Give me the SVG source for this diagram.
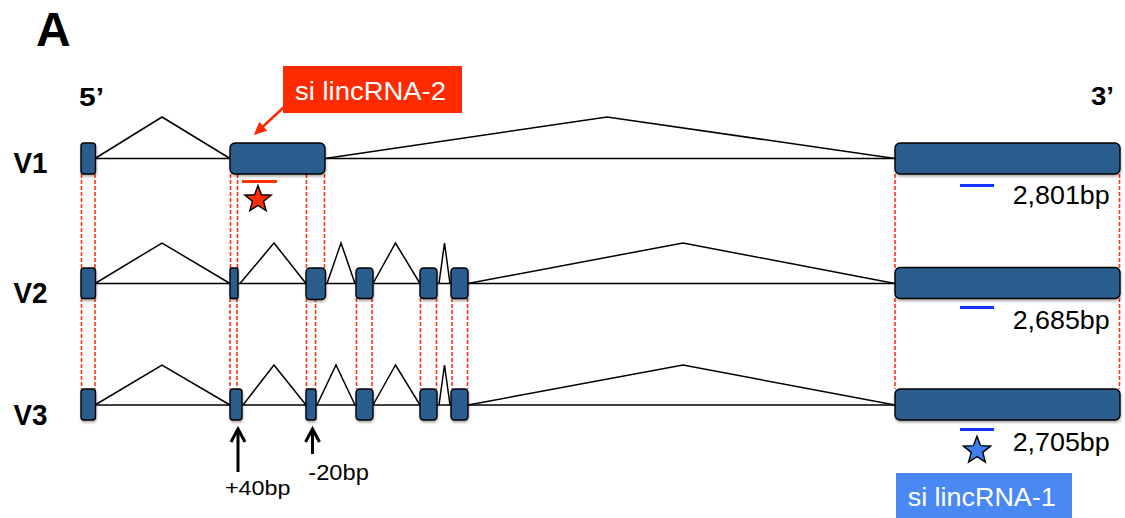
<svg xmlns="http://www.w3.org/2000/svg" width="1125" height="518" viewBox="0 0 1125 518">
<style>
.ex{fill:#2a5c8e;stroke:#000;stroke-width:1.4;filter:url(#sh)}
.in{fill:none;stroke:#000;stroke-width:1.5;stroke-linejoin:miter}
.gd{stroke:#ff3312;stroke-width:1.6;stroke-dasharray:4 2}
.lb{font-family:"Liberation Sans",Arial,sans-serif;fill:#000}
.b{font-weight:bold}
.bl{stroke:#1533ff;stroke-width:3}
.ar{stroke:#000;stroke-width:3;fill:none}
.wt{font-family:"Liberation Sans",Arial,sans-serif;fill:#fff}
</style>
<defs>
<filter id="sh" x="-20%" y="-20%" width="140%" height="160%"><feDropShadow dx="0.5" dy="2" stdDeviation="1.2" flood-opacity="0.3"/></filter>
<polygon id="star" points="0,-13 3.23,-4.45 12.36,-4.02 5.23,1.7 7.64,10.52 0,5.5 -7.64,10.52 -5.23,1.7 -12.36,-4.02 -3.23,-4.45" stroke="#000" stroke-width="1.3"/>
<marker id="ra" markerWidth="13" markerHeight="12" refX="10" refY="6" orient="auto" markerUnits="userSpaceOnUse"><path d="M0,0 L13,6 L0,12 Z" fill="#ff2a00"/></marker>
</defs>
<rect width="1125" height="518" fill="#fff"/>

<g id="labels">
<text class="lb b" x="36" y="46" font-size="48">A</text>
<text class="lb b" x="79" y="106" font-size="26" textLength="25" lengthAdjust="spacingAndGlyphs">5’</text>
<text class="lb b" x="1091" y="105" font-size="25" textLength="23" lengthAdjust="spacingAndGlyphs">3’</text>
<text class="lb b" x="13.5" y="173" font-size="30" textLength="34" lengthAdjust="spacingAndGlyphs">V1</text>
<text class="lb b" x="13.5" y="303" font-size="30" textLength="34" lengthAdjust="spacingAndGlyphs">V2</text>
<text class="lb b" x="13.5" y="425" font-size="30" textLength="34" lengthAdjust="spacingAndGlyphs">V3</text>
<text class="lb" x="1012.7" y="204" font-size="26.5" textLength="97" lengthAdjust="spacingAndGlyphs">2,801bp</text>
<text class="lb" x="1012.7" y="328.5" font-size="26.5" textLength="97" lengthAdjust="spacingAndGlyphs">2,685bp</text>
<text class="lb" x="1012.7" y="450.5" font-size="26.5" textLength="97" lengthAdjust="spacingAndGlyphs">2,705bp</text>
<text class="lb" x="225" y="494.5" font-size="21" textLength="65.5" lengthAdjust="spacingAndGlyphs">+40bp</text>
<text class="lb" x="308.3" y="479.5" font-size="22" textLength="60.5" lengthAdjust="spacingAndGlyphs">-20bp</text>
</g>

<g id="connectors">
<g class="gd">
<line x1="81.5" y1="174" x2="81.5" y2="268"/><line x1="95" y1="174" x2="95" y2="268"/>
<line x1="230.5" y1="174" x2="230.5" y2="268"/><line x1="237.5" y1="174" x2="237.5" y2="268"/>
<line x1="306.5" y1="174" x2="306.5" y2="268"/><line x1="324.5" y1="174" x2="324.5" y2="268"/>
<line x1="895" y1="174" x2="895" y2="268"/><line x1="1119.5" y1="174" x2="1119.5" y2="268"/>
<line x1="81.5" y1="298" x2="81.5" y2="389"/><line x1="95" y1="298" x2="95" y2="389"/>
<line x1="230" y1="298" x2="230" y2="389"/><line x1="237" y1="298" x2="237" y2="389"/>
<line x1="306.5" y1="298" x2="306.5" y2="389"/><line x1="315.5" y1="298" x2="315.5" y2="389"/>
<line x1="356.5" y1="298" x2="356.5" y2="389"/><line x1="372" y1="298" x2="372" y2="389"/>
<line x1="420.5" y1="298" x2="420.5" y2="389"/><line x1="436.5" y1="298" x2="436.5" y2="389"/>
<line x1="452" y1="298" x2="452" y2="389"/><line x1="467.5" y1="298" x2="467.5" y2="389"/>
<line x1="895" y1="298" x2="895" y2="389"/><line x1="1119.5" y1="298" x2="1119.5" y2="389"/>
</g>
<g class="in">
<polyline points="95,158.5 162,117 230,158.5"/><line x1="95" y1="158.5" x2="230" y2="158.5"/>
<polyline points="325,158.5 607,117 895,158.5"/><line x1="325" y1="158.5" x2="895" y2="158.5"/>
<polyline points="95,283.5 162,243 230,283.5"/><line x1="95" y1="283.5" x2="230" y2="283.5"/>
<polyline points="240,283.5 274,243 306,283.5"/><line x1="238" y1="283.5" x2="306" y2="283.5"/>
<polyline points="327,283.5 341,243 355,283.5"/><line x1="325" y1="283.5" x2="356" y2="283.5"/>
<polyline points="373,283.5 395.5,243 420,283.5"/><line x1="373" y1="283.5" x2="420" y2="283.5"/>
<polyline points="439,283.5 444.5,243 450,283.5"/><line x1="437" y1="283.5" x2="451" y2="283.5"/>
<polyline points="468,283.5 683,243 895,283.5"/><line x1="468" y1="283.5" x2="895" y2="283.5"/>
<polyline points="95,405 162,365 230,405"/><line x1="95" y1="405" x2="230" y2="405"/>
<polyline points="243,405 274,365 306,405"/><line x1="242" y1="405" x2="306" y2="405"/>
<polyline points="317,405 336,365 355,405"/><line x1="316" y1="405" x2="356" y2="405"/>
<polyline points="373,405 395.5,365 420,405"/><line x1="373" y1="405" x2="420" y2="405"/>
<polyline points="439,405 444.5,365 450,405"/><line x1="437" y1="405" x2="451" y2="405"/>
<polyline points="468,405 683,365 895,405"/><line x1="468" y1="405" x2="895" y2="405"/>
</g>
<line class="ar" x1="238" y1="472" x2="238" y2="429"/>
<polyline class="ar" points="231,442 238,429 245,442"/>
<line class="ar" x1="312.5" y1="454" x2="312.5" y2="429"/>
<polyline class="ar" points="305.5,442 312.5,429 319.5,442"/>
<line x1="284" y1="107" x2="256" y2="133" stroke="#ff2a00" stroke-width="2.5" marker-end="url(#ra)"/>
</g>

<g id="V1">
<rect class="ex" x="81" y="143" width="14.5" height="31" rx="3"/>
<rect class="ex" x="230" y="143" width="95" height="31" rx="5"/>
<rect class="ex" x="895" y="143" width="225" height="31" rx="5"/>
</g>
<g id="V2">
<rect class="ex" x="81" y="268" width="14.5" height="30.5" rx="3"/>
<rect class="ex" x="230" y="268" width="8" height="30.5" rx="2"/>
<rect class="ex" x="306" y="268" width="19.5" height="31.5" rx="4"/>
<rect class="ex" x="356" y="268" width="17" height="30.5" rx="3.5"/>
<rect class="ex" x="420" y="268" width="17" height="30.5" rx="3.5"/>
<rect class="ex" x="451" y="268" width="17" height="30.5" rx="3.5"/>
<rect class="ex" x="895" y="267.5" width="225" height="31" rx="5"/>
</g>
<g id="V3">
<rect class="ex" x="81" y="389" width="14.5" height="31" rx="3"/>
<rect class="ex" x="230" y="389" width="12" height="31" rx="3"/>
<rect class="ex" x="306" y="389" width="10" height="31" rx="2.5"/>
<rect class="ex" x="356" y="389" width="17" height="31" rx="3.5"/>
<rect class="ex" x="420" y="389" width="17" height="31" rx="3.5"/>
<rect class="ex" x="451" y="389" width="17" height="31" rx="3.5"/>
<rect class="ex" x="895" y="389" width="225" height="31" rx="5"/>
</g>

<g id="si-lincRNA-2">
<rect x="283" y="66" width="179" height="47" fill="#ff2a00"/>
<text class="wt" x="295" y="100" font-size="25" textLength="151" lengthAdjust="spacingAndGlyphs">si lincRNA-2</text>
<line x1="242" y1="181.5" x2="277" y2="181.5" stroke="#ff3300" stroke-width="3"/>
<use href="#star" fill="#ff2a00" transform="translate(258,199.5) scale(1.07)"/>
</g>

<g id="si-lincRNA-1">
<line class="bl" x1="960" y1="185.5" x2="994" y2="185.5"/>
<line class="bl" x1="960" y1="307.5" x2="994" y2="307.5"/>
<line class="bl" x1="960" y1="429.5" x2="994" y2="429.5"/>
<use href="#star" fill="#3f7fee" transform="translate(977,450.5) scale(1.1)"/>
<rect x="896" y="473" width="176" height="45" fill="#4a89f3"/>
<text class="wt" x="907.7" y="506" font-size="25" textLength="148" lengthAdjust="spacingAndGlyphs">si lincRNA-1</text>
</g>
</svg>
